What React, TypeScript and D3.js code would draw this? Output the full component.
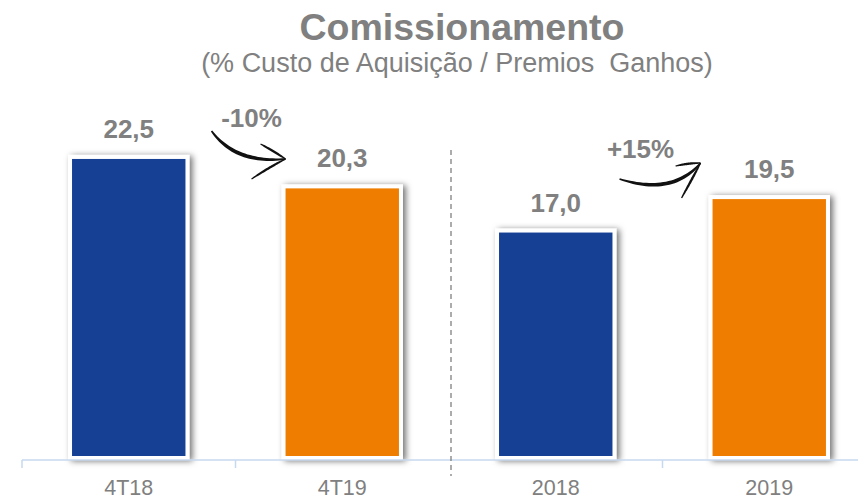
import React from "react";
import * as d3 from "d3";

const categories = ["4T18", "4T19", "2018", "2019"];
const values = [22.5, 20.3, 17.0, 19.5];
const valueLabels = ["22,5", "20,3", "17,0", "19,5"];
const barColors = ["#173F94", "#EF7D00", "#173F94", "#EF7D00"];
const changeLabels = ["-10%", "+15%"];

const W = 858;
const H = 499;
const GRAY = "#808080";

type P = [number, number];

// tapered brush stroke along a quadratic curve
function taper(p0: P, c: P, p1: P, maxW: number): string {
  const n = 30;
  const left: P[] = [];
  const right: P[] = [];
  for (let i = 0; i <= n; i++) {
    const t = i / n;
    const mt = 1 - t;
    const px = mt * mt * p0[0] + 2 * mt * t * c[0] + t * t * p1[0];
    const py = mt * mt * p0[1] + 2 * mt * t * c[1] + t * t * p1[1];
    const dx = 2 * mt * (c[0] - p0[0]) + 2 * t * (p1[0] - c[0]);
    const dy = 2 * mt * (c[1] - p0[1]) + 2 * t * (p1[1] - c[1]);
    const len = Math.hypot(dx, dy) || 1;
    const nx = -dy / len;
    const ny = dx / len;
    const w = (maxW / 2) * Math.pow(Math.sin(Math.PI * (0.08 + 0.84 * t)), 0.8) + 0.3;
    left.push([px + nx * w, py + ny * w]);
    right.push([px - nx * w, py - ny * w]);
  }
  const pts = left.concat(right.reverse());
  return d3.line()(pts) + "Z";
}

export default function App() {
  const x = d3
    .scaleBand<string>()
    .domain(categories)
    .range([22, 876])
    .paddingInner(0.45)
    .paddingOuter(0.225);
  const y = d3.scaleLinear().domain([0, 25]).range([458, 458 - 334.5]);
  const bw = x.bandwidth();
  const step = x.step();
  const cx = (c: string) => (x(c) as number) + bw / 2;

  const a1 = x(categories[1]) as number; // ~285
  const a2 = x(categories[3]) as number; // ~712
  const tip1: P = [a1 + 2, 159];
  const tip2: P = [a2 - 10, 163];

  const sepX = (x(categories[2]) as number) - (step - bw) / 2 + 2;

  return (
    <svg width={W} height={H} style={{ position: "absolute", left: 0, top: 0 }}
      fontFamily="'Liberation Sans', Arial, sans-serif">
      <defs>
        <filter id="sh" x="-20%" y="-20%" width="140%" height="140%">
          <feDropShadow dx="3" dy="1" stdDeviation="3" floodColor="#000" floodOpacity="0.55" />
        </filter>
      </defs>
      <rect width={W} height={H} fill="#fff" />
      <text x={462} y={40} textAnchor="middle" fontSize={37.5} fontWeight="bold" fill={GRAY}>
        Comissionamento
      </text>
      <text x={457} y={72} textAnchor="middle" fontSize={27} fill={GRAY} style={{ whiteSpace: "pre" }}>
        (% Custo de Aquisição / Premios  Ganhos)
      </text>

      {categories.map((c, i) => (
        <g key={c}>
          <rect
            x={x(c)}
            y={y(values[i])}
            width={bw}
            height={y(0) - y(values[i])}
            fill={barColors[i]}
            stroke="#fff"
            strokeWidth={4}
            filter="url(#sh)"
          />
          <text x={cx(c)} y={y(values[i]) - 19} textAnchor="middle" fontSize={26} fontWeight="bold" fill={GRAY}>
            {valueLabels[i]}
          </text>
          <text x={cx(c)} y={495} textAnchor="middle" fontSize={21.5} fill={GRAY}>
            {c}
          </text>
        </g>
      ))}

      <line x1={22} x2={W} y1={460} y2={460} stroke="#C6D9F1" strokeWidth={1.5} />
      {[0, 1, 3].map((i) => {
        const tx = (x(categories[i]) as number) - (step - bw) / 2;
        return <line key={i} x1={tx} x2={tx} y1={460} y2={468} stroke="#C6D9F1" strokeWidth={1.5} />;
      })}
      <line x1={sepX} x2={sepX} y1={150} y2={476} stroke={GRAY} strokeWidth={1.3} strokeDasharray="5,4" />

      <text x={a1 - 32} y={127} textAnchor="middle" fontSize={26} fontWeight="bold" fill={GRAY}>
        {changeLabels[0]}
      </text>
      <path d={taper([a1 - 72, 131], [a1 - 48, 164], tip1, 3.2)} fill="#111" />
      <path d={taper([a1 - 23, 144], [a1 - 10, 151], tip1, 1.8)} fill="#111" />
      <path d={taper(tip1, [a1 - 14, 167], [a1 - 32, 179], 1.8)} fill="#111" />

      <text x={a2 - 70} y={158} textAnchor="middle" fontSize={26} fontWeight="bold" fill={GRAY}>
        {changeLabels[1]}
      </text>
      <path d={taper([a2 - 91, 179], [a2 - 38, 196], tip2, 3.2)} fill="#111" />
      <path d={taper([a2 - 35, 166], [a2 - 22, 163], tip2, 1.8)} fill="#111" />
      <path d={taper(tip2, [a2 - 19, 180], [a2 - 29, 198], 1.8)} fill="#111" />
    </svg>
  );
}
